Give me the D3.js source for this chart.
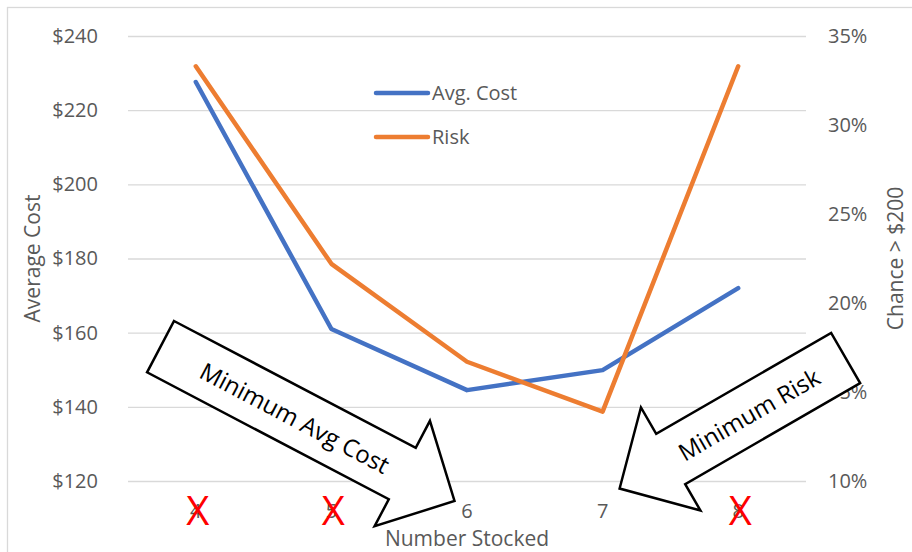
<!DOCTYPE html>
<html>
<head>
<meta charset="utf-8">
<script src="https://cdn.jsdelivr.net/npm/d3@7"></script>
<style>
  body { margin: 0; background: #fff; }
  text { font-family: "Open Sans", sans-serif; }
</style>
</head>
<body>
<script>
// data
var stocked = [4, 5, 6, 7, 8];
var avgCost = [227.6, 161.0, 144.5, 149.9, 172.0];
var risk = [0.333, 0.222, 0.167, 0.139, 0.333];
var costTicks = [120, 140, 160, 180, 200, 220, 240];
var riskTicks = [0.10, 0.15, 0.20, 0.25, 0.30, 0.35];
var crossedOut = [4, 5, 8];

var width = 912,
    height = 552;

var margin = {top: 36, right: 106, bottom: 71, left: 128},
    graphWidth = width - margin.left - margin.right,
    graphHeight = height - margin.top - margin.bottom;

var blue = "#4472C4",
    orange = "#ED7D31",
    grey = "#595959",
    gridGrey = "#d9d9d9";

var svg = d3.select("body").append("svg")
  .attr("width", width)
  .attr("height", height)
  .attr("id", "canvas");

// chart area border (cropped at right and bottom)
svg.append("rect")
  .attr("x", 7.5)
  .attr("y", 7.5)
  .attr("width", 1000)
  .attr("height", 1000)
  .attr("fill", "none")
  .attr("stroke", gridGrey)
  .attr("stroke-width", 1.3);

var g = svg.append("g")
  .attr("transform", "translate(" + margin.left + "," + margin.top + ")");

var xScale = d3.scaleBand()
  .domain(stocked)
  .range([0, graphWidth]);
var xc = function(d) { return xScale(d) + xScale.bandwidth() / 2; };

var yCost = d3.scaleLinear()
  .domain([120, 240])
  .range([graphHeight, 0]);
var yRisk = d3.scaleLinear()
  .domain([0.10, 0.35])
  .range([graphHeight, 0]);

// left axis with gridlines
var yAxisLeft = g.append("g")
  .attr("class", "y-axis")
  .call(d3.axisLeft(yCost)
    .tickValues(costTicks)
    .tickSizeInner(-graphWidth)
    .tickSizeOuter(0)
    .tickPadding(30)
    .tickFormat(function(d) { return "$" + d; }));
yAxisLeft.select(".domain").remove();
yAxisLeft.selectAll("line").attr("stroke", gridGrey).attr("stroke-width", 1.3);
yAxisLeft.selectAll("text")
  .attr("fill", grey)
  .style("font-size", "20px");

// right axis
var yAxisRight = g.append("g")
  .attr("class", "y-axis-right")
  .attr("transform", "translate(" + graphWidth + ",0)")
  .call(d3.axisRight(yRisk)
    .tickValues(riskTicks)
    .tickSize(0)
    .tickPadding(22)
    .tickFormat(d3.format(".0%")));
yAxisRight.select(".domain").remove();
yAxisRight.selectAll("text")
  .attr("fill", grey)
  .style("font-size", "20px");

// bottom axis
var xAxis = g.append("g")
  .attr("class", "x-axis")
  .attr("transform", "translate(0," + graphHeight + ")")
  .call(d3.axisBottom(xScale).tickSize(0).tickPadding(23));
xAxis.select(".domain").remove();
xAxis.selectAll("text")
  .attr("fill", grey)
  .style("font-size", "20px");

// axis titles
svg.append("text")
  .attr("transform", "translate(32," + (margin.top + graphHeight / 2) + ") rotate(-90)")
  .attr("text-anchor", "middle")
  .attr("dominant-baseline", "central")
  .attr("fill", grey)
  .style("font-size", "21px")
  .text("Average Cost");
svg.append("text")
  .attr("transform", "translate(895," + (margin.top + graphHeight / 2) + ") rotate(-90)")
  .attr("text-anchor", "middle")
  .attr("dominant-baseline", "central")
  .attr("fill", grey)
  .style("font-size", "21px")
  .text("Chance > $200");
svg.append("text")
  .attr("x", margin.left + graphWidth / 2)
  .attr("y", 546)
  .attr("text-anchor", "middle")
  .attr("fill", grey)
  .style("font-size", "21px")
  .text("Number Stocked");

// lines
var costLine = d3.line()
  .x(function(d, i) { return xc(stocked[i]); })
  .y(function(d) { return yCost(d); });
var riskLine = d3.line()
  .x(function(d, i) { return xc(stocked[i]); })
  .y(function(d) { return yRisk(d); });

g.append("path")
  .datum(avgCost)
  .attr("d", costLine)
  .attr("fill", "none")
  .attr("stroke", blue)
  .attr("stroke-width", 4.5)
  .attr("stroke-linecap", "round")
  .attr("stroke-linejoin", "round");
g.append("path")
  .datum(risk)
  .attr("d", riskLine)
  .attr("fill", "none")
  .attr("stroke", orange)
  .attr("stroke-width", 4.5)
  .attr("stroke-linecap", "round")
  .attr("stroke-linejoin", "round");

// legend
var legendItems = [
  {name: "Avg. Cost", color: blue},
  {name: "Risk", color: orange}
];
var legend = svg.append("g")
  .attr("transform", "translate(376,93)");
legendItems.forEach(function(item, i) {
  var row = legend.append("g").attr("transform", "translate(0," + (i * 44) + ")");
  row.append("line")
    .attr("x1", 0).attr("x2", 52)
    .attr("stroke", item.color)
    .attr("stroke-width", 4.5)
    .attr("stroke-linecap", "round");
  row.append("text")
    .attr("x", 56)
    .attr("y", 7)
    .attr("fill", grey)
    .style("font-size", "20px")
    .text(item.name);
});

// block arrow callouts
var arrows = [
  {label: "Minimum Avg Cost", target: 6, dx: -12.5, dy: 20, angle: 27.7, length: 332, textAt: 152},
  {label: "Minimum Risk", target: 7, dx: 17, dy: 7.5, angle: 150, length: 261, textAt: 112}
];
var bodyHalf = 29, headHalf = 59.5, headLen = 59;

arrows.forEach(function(a) {
  var tipX = margin.left + xc(a.target) + a.dx,
      tipY = margin.top + graphHeight + a.dy,
      rad = a.angle * Math.PI / 180,
      tailX = tipX - a.length * Math.cos(rad),
      tailY = tipY - a.length * Math.sin(rad),
      L = a.length;
  var pts = [[0, -bodyHalf], [L - headLen, -bodyHalf], [L - headLen, -headHalf], [L, 0],
             [L - headLen, headHalf], [L - headLen, bodyHalf], [0, bodyHalf]];
  var ag = svg.append("g")
    .attr("transform", "translate(" + tailX + "," + tailY + ") rotate(" + a.angle + ")");
  ag.append("path")
    .attr("d", d3.line()(pts) + "Z")
    .attr("fill", "#fff")
    .attr("stroke", "#000")
    .attr("stroke-width", 2.5)
    .attr("stroke-linejoin", "miter");
  var flip = Math.abs(a.angle) > 90 ? 180 : 0;
  ag.append("text")
    .attr("transform", "translate(" + a.textAt + ",0) rotate(" + flip + ")")
    .attr("text-anchor", "middle")
    .attr("dominant-baseline", "central")
    .attr("fill", "#000")
    .style("font-size", "24px")
    .text(a.label);
});

// red crosses over rejected stock levels
svg.selectAll(".cross")
  .data(crossedOut)
  .enter().append("text")
  .attr("class", "cross")
  .attr("x", function(d) { return margin.left + xc(d) + 2; })
  .attr("y", 509)
  .attr("text-anchor", "middle")
  .attr("dominant-baseline", "central")
  .attr("fill", "#FF0000")
  .style("font-size", "40px")
  .text("X");
</script>
</body>
</html>
